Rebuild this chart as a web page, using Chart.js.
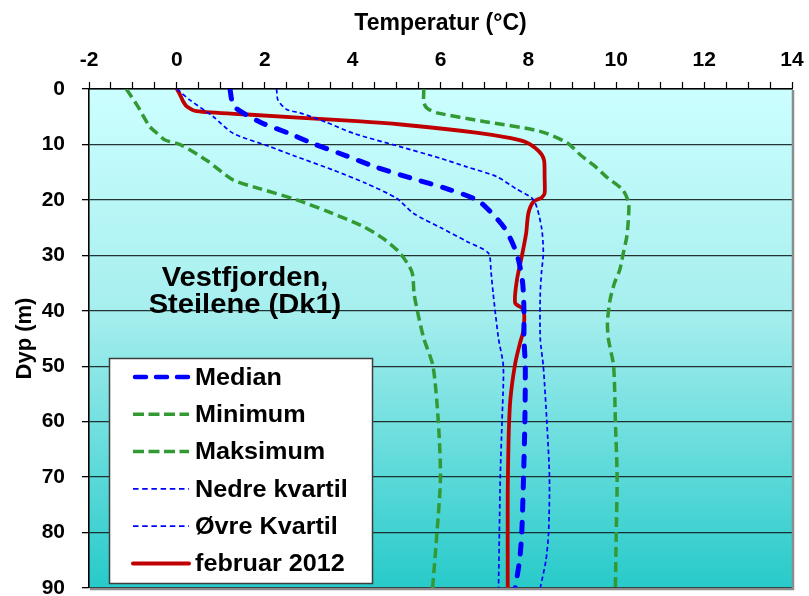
<!DOCTYPE html>
<html>
<head>
<meta charset="utf-8">
<title>Temperatur – Vestfjorden, Steilene (Dk1)</title>
<script src="https://cdn.jsdelivr.net/npm/chart.js@4/dist/chart.umd.min.js"></script>
<style>
  html, body { margin: 0; padding: 0; background: #ffffff; }
  canvas { display: block; }
</style>
</head>
<body>
<canvas id="profile" width="809" height="596"></canvas>
<script>
// Temperature profiles (°C) against depth (m)
const medianDepth = [0, 2, 3.5, 6, 8, 10, 12, 14, 16, 18, 20, 22, 25, 28, 31, 35, 40, 45, 50, 60, 70, 80, 85, 90];
const medianTemp  = [1.21, 1.25, 1.35, 1.9, 2.55, 3.15, 3.84, 4.5, 5.3, 6.15, 6.83, 7.12, 7.45, 7.65, 7.78, 7.87, 7.9, 7.9, 7.93, 7.92, 7.89, 7.85, 7.8, 7.7];

const minDepth = [0, 3, 6.75, 8, 9.2, 10, 13, 16.4, 18, 20, 22, 24.8, 27, 29.6, 33, 37, 41, 45, 50, 60, 70, 80, 90];
const minTemp  = [-1.15, -0.9, -0.62, -0.45, -0.27, 0.07, 0.7, 1.28, 1.9, 2.73, 3.4, 4.24, 4.7, 5.08, 5.35, 5.4, 5.5, 5.62, 5.83, 5.95, 6.0, 5.92, 5.82];

const maxDepth = [0, 2.5, 3.5, 4.3, 5.8, 7.6, 9.7, 12, 13.7, 16, 18.2, 20.5, 23, 26.6, 30, 32.6, 35, 38, 42, 45, 50, 60, 70, 80, 90];
const maxTemp  = [5.62, 5.62, 5.7, 5.92, 6.95, 8.25, 8.88, 9.2, 9.48, 9.8, 10.15, 10.28, 10.28, 10.24, 10.15, 10.08, 9.96, 9.86, 9.8, 9.82, 9.94, 9.98, 10.02, 10.0, 9.98];

const lowerQDepth = [0, 2, 5, 8, 10.4, 12, 14.6, 17, 19.7, 22.4, 25, 27.5, 29.6, 33, 37, 45, 50, 60, 70, 80, 90];
const lowerQTemp  = [0, 0.3, 0.83, 1.28, 2.12, 2.65, 3.55, 4.3, 5.0, 5.38, 6.0, 6.6, 7.09, 7.15, 7.2, 7.32, 7.43, 7.4, 7.36, 7.34, 7.32];

const upperQDepth = [0, 2, 3.7, 4.3, 6, 8, 10.4, 12.5, 14, 15.8, 18, 20, 25, 29.6, 33, 37, 45, 50, 60, 70, 80, 85, 90];
const upperQTemp  = [2.27, 2.3, 2.5, 2.8, 3.4, 4.02, 5.08, 6.0, 6.58, 7.28, 7.72, 8.12, 8.3, 8.34, 8.3, 8.27, 8.27, 8.34, 8.42, 8.48, 8.46, 8.4, 8.27];

const feb2012Depth = [0, 1, 2.2, 3.1, 4, 4.6, 5.8, 6.4, 7.9, 8.85, 9.6, 10.6, 11.8, 13, 16, 18.8, 19.6, 20.3, 22.4, 26, 30.2, 34.4, 38.6, 39.8, 43.4, 45.8, 49.5, 56, 63, 73, 90];
const feb2012Temp  = [0, 0.07, 0.14, 0.22, 0.45, 1.6, 4.1, 5.1, 6.85, 7.6, 7.95, 8.15, 8.3, 8.36, 8.37, 8.37, 8.3, 8.12, 8.0, 7.95, 7.85, 7.74, 7.7, 7.89, 7.89, 7.81, 7.7, 7.59, 7.55, 7.53, 7.53];

// Axis ticks
const tempTickLabels = [-2, 0, 2, 4, 6, 8, 10, 12, 14];
const tempMinorStep = 0.5;
const depthTicks = [0, 10, 20, 30, 40, 50, 60, 70, 80, 90];

const stationLines = ['Vestfjorden,', 'Steilene (Dk1)'];

const FONT = "'Liberation Sans', Arial, Helvetica, sans-serif";
Chart.defaults.font.family = FONT;
Chart.defaults.color = '#000000';

const BLUE = '#0000ff';
const GREEN = '#339933';
const RED = '#c00000';

function toPoints(depths, temps) {
  return depths.map((d, i) => ({ x: temps[i], y: d }));
}

const datasets = [
  { label: 'Median', data: toPoints(medianDepth, medianTemp),
    borderColor: BLUE, borderWidth: 5, borderDash: [10, 12], borderCapStyle: 'round',
    legendDash: [11, 10], legendWidth: 4.5 },
  { label: 'Minimum', data: toPoints(minDepth, minTemp),
    borderColor: GREEN, borderWidth: 3.5, borderDash: [10, 5], borderCapStyle: 'butt',
    legendDash: [11, 4.5], legendWidth: 3.5 },
  { label: 'Maksimum', data: toPoints(maxDepth, maxTemp),
    borderColor: GREEN, borderWidth: 3.5, borderDash: [10, 5], borderCapStyle: 'butt',
    legendDash: [11, 4.5], legendWidth: 3.5 },
  { label: 'Nedre kvartil', data: toPoints(lowerQDepth, lowerQTemp),
    borderColor: BLUE, borderWidth: 1.7, borderDash: [4.5, 3], borderCapStyle: 'butt',
    legendDash: [5.5, 3.7], legendWidth: 1.7 },
  { label: 'Øvre Kvartil', data: toPoints(upperQDepth, upperQTemp),
    borderColor: BLUE, borderWidth: 1.7, borderDash: [4.5, 3], borderCapStyle: 'butt',
    legendDash: [5.5, 3.7], legendWidth: 1.7 },
  { label: 'februar 2012', data: toPoints(feb2012Depth, feb2012Temp),
    borderColor: RED, borderWidth: 3.8, borderDash: [], borderCapStyle: 'round',
    legendDash: [], legendWidth: 4 }
];

datasets.forEach(ds => {
  ds.showLine = true;
  ds.pointRadius = 0;
  ds.pointHoverRadius = 0;
  ds.fill = false;
  ds.tension = 0.25;
  ds.borderJoinStyle = 'round';
});

// Water-column background inside the plot area
const waterBackground = {
  id: 'waterBackground',
  beforeDraw(chart) {
    const { ctx, chartArea: a } = chart;
    const g = ctx.createLinearGradient(0, a.top, 0, a.bottom);
    g.addColorStop(0, '#ccffff');
    g.addColorStop(0.45, '#a6eeee');
    g.addColorStop(1, '#28caca');
    ctx.save();
    ctx.fillStyle = g;
    ctx.fillRect(a.left, a.top, a.right - a.left, a.bottom - a.top);
    ctx.restore();
  },
  afterDraw(chart) {
    const { ctx, chartArea: a } = chart;
    ctx.save();
    ctx.strokeStyle = '#8c8c8c';
    ctx.lineWidth = 2.5;
    ctx.beginPath();
    ctx.moveTo(a.right + 1, a.top + 1);
    ctx.lineTo(a.right + 1, a.bottom + 1);
    ctx.lineTo(a.left + 1, a.bottom + 1);
    ctx.stroke();
    ctx.restore();
  }
};

// Draws text slightly widened horizontally around its anchor point
function wideText(ctx, text, x, y, stretch) {
  ctx.save();
  ctx.translate(x, y);
  ctx.scale(stretch, 1);
  ctx.fillText(text, 0, 0);
  ctx.restore();
}

// Station name and the boxed legend, drawn over the profiles
const overlays = {
  id: 'overlays',
  afterDatasetsDraw(chart) {
    const { ctx } = chart;
    const xs = chart.scales.x, ys = chart.scales.y;
    ctx.save();

    // station name
    ctx.fillStyle = '#000';
    ctx.font = `bold 28px ${FONT}`;
    ctx.textAlign = 'center';
    ctx.textBaseline = 'alphabetic';
    const cx = xs.getPixelForValue(1.55);
    stationLines.forEach((t, i) => {
      wideText(ctx, t, cx, ys.getPixelForValue(35.6) + i * 26.5, 1.04);
    });

    // legend box
    const bx = 109.5, by = 358.5, bw = 263, bh = 225;
    ctx.fillStyle = '#ffffff';
    ctx.fillRect(bx, by, bw, bh);
    ctx.strokeStyle = '#3c3c3c';
    ctx.lineWidth = 1.5;
    ctx.strokeRect(bx, by, bw, bh);

    const rowH = 37.3;
    chart.data.datasets.forEach((ds, i) => {
      const y = 377 + i * rowH;
      ctx.save();
      ctx.strokeStyle = ds.borderColor;
      ctx.lineWidth = ds.legendWidth;
      ctx.lineCap = ds.borderCapStyle;
      ctx.setLineDash(ds.legendDash);
      ctx.beginPath();
      const x0 = ds.borderCapStyle === 'round' && ds.legendDash.length ? 135 : 133;
      ctx.moveTo(x0, y);
      ctx.lineTo(189, y);
      ctx.stroke();
      ctx.restore();

      ctx.fillStyle = '#000';
      ctx.font = `bold 24px ${FONT}`;
      ctx.textAlign = 'left';
      ctx.textBaseline = 'middle';
      wideText(ctx, ds.label, 195, y + 1, 1.05);
    });
    ctx.restore();
  }
};

new Chart(document.getElementById('profile'), {
  type: 'scatter',
  data: { datasets },
  plugins: [waterBackground, overlays],
  options: {
    responsive: false,
    animation: false,
    events: [],
    layout: { padding: { left: 0, top: 0, right: 17, bottom: 8 } },
    plugins: { legend: { display: false }, tooltip: { enabled: false } },
    scales: {
      x: {
        type: 'linear',
        position: 'top',
        min: -2,
        max: 14,
        afterBuildTicks(scale) {
          const ticks = [];
          const lo = tempTickLabels[0], hi = tempTickLabels[tempTickLabels.length - 1];
          for (let v = lo; v <= hi + 1e-9; v += tempMinorStep) ticks.push({ value: Math.round(v * 100) / 100 });
          scale.ticks = ticks;
        },
        afterFit(scale) {
          scale.height = 89;
          scale.paddingLeft = 0;
          scale.paddingRight = 0;
        },
        ticks: {
          autoSkip: false,
          maxRotation: 0,
          padding: 9,
          font: { size: 21, weight: 'bold' },
          color: '#000',
          callback: v => tempTickLabels.includes(v) ? String(v) : ''
        },
        grid: {
          drawOnChartArea: false,
          drawTicks: true,
          tickLength: 7,
          tickColor: '#000',
          tickWidth: 1.2
        },
        border: { display: true, color: '#000', width: 1.6 },
        title: {
          display: true,
          text: 'Temperatur (°C)',
          font: { size: 23, weight: 'bold' },
          padding: { top: 10, bottom: 0 },
          color: '#000'
        }
      },
      y: {
        type: 'linear',
        position: 'left',
        reverse: true,
        min: 0,
        max: 90,
        afterBuildTicks(scale) { scale.ticks = depthTicks.map(v => ({ value: v })); },
        afterFit(scale) {
          scale.width = 89;
          scale.paddingTop = 0;
          scale.paddingBottom = 0;
        },
        ticks: {
          autoSkip: false,
          padding: 17,
          font: { size: 21, weight: 'bold' },
          color: '#000'
        },
        grid: {
          color: 'rgba(20,30,30,0.9)',
          lineWidth: 1.3,
          drawTicks: true,
          tickLength: 7,
          tickColor: '#000'
        },
        border: { display: true, color: '#000', width: 1.6 },
        title: {
          display: true,
          text: 'Dyp (m)',
          font: { size: 22, weight: 'bold' },
          padding: { top: 12, bottom: 0 },
          color: '#000'
        }
      }
    }
  }
});
</script>
</body>
</html>
